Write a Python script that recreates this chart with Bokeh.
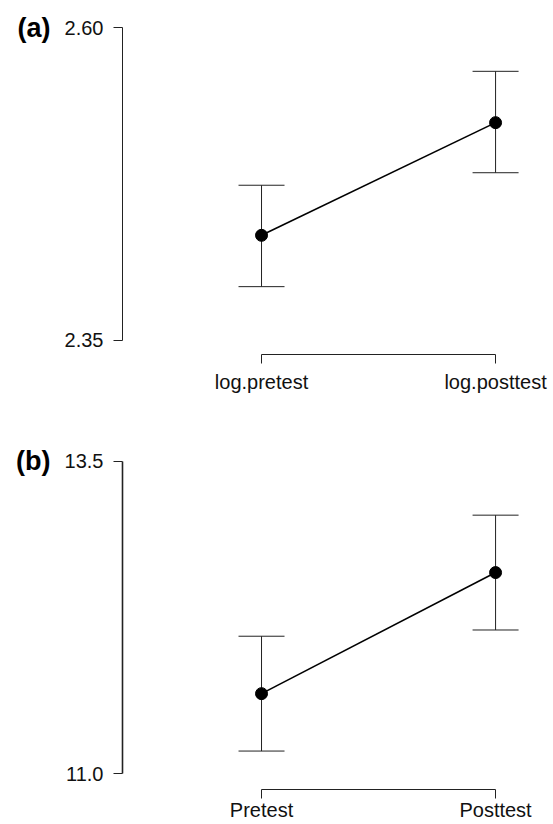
from bokeh.plotting import figure
from bokeh.models import Range1d, FixedTicker, Whisker, TeeHead, ColumnDataSource, LinearAxis
from bokeh.layouts import column
from bokeh.embed import file_html
from bokeh.resources import INLINE

# ---- data ----
conditions_a = ["log.pretest", "log.posttest"]
means_a = [2.434, 2.524]
lower_a = [2.393, 2.484]
upper_a = [2.474, 2.565]
yticks_a = [2.35, 2.60]
yticklabels_a = ["2.35", "2.60"]

conditions_b = ["Pretest", "Posttest"]
means_b = [11.64, 12.61]
lower_b = [11.18, 12.15]
upper_b = [12.10, 13.07]
yticks_b = [11.0, 13.5]
yticklabels_b = ["11.0", "13.5"]

FONT = "Liberation Sans"
AX = "#222222"


def panel(tag, conds, means, lower, upper, yticks, ylabels, yrange, height, bottom,
          xstand, yline):
    xs = list(range(len(conds)))
    p = figure(width=553, height=height, output_backend="svg", toolbar_location=None,
               x_range=Range1d(-0.594, 1.192), y_range=Range1d(*yrange),
               min_border_left=122, min_border_right=13, min_border_top=20,
               min_border_bottom=bottom)
    p.outline_line_color = None
    p.grid.visible = False
    p.background_fill_color = "white"
    p.border_fill_color = "white"

    for ax in (p.xaxis[0], p.yaxis[0]):
        ax.axis_line_color = AX
        ax.axis_line_width = 1
        ax.major_tick_line_color = AX
        ax.major_tick_in = 0
        ax.major_tick_out = 9
        ax.minor_tick_line_color = None
        ax.major_label_text_font = FONT
        ax.major_label_text_font_size = "20px"
        ax.major_label_text_color = "#111111"

    p.xaxis.ticker = FixedTicker(ticks=xs)
    p.xaxis.major_label_overrides = {x: c for x, c in zip(xs, conds)}
    p.xaxis.bounds = (xs[0], xs[-1])
    p.xaxis.major_label_standoff = xstand

    p.yaxis.ticker = FixedTicker(ticks=yticks)
    p.yaxis.major_label_overrides = {t: l for t, l in zip(yticks, ylabels)}
    p.yaxis.bounds = (yticks[0], yticks[-1])
    p.yaxis.major_label_standoff = 10
    p.yaxis.axis_line_width = yline

    # panel tag drawn as an outer left axis carrying one bold label
    tag_axis = LinearAxis(ticker=FixedTicker(ticks=[yticks[-1]]),
                          major_label_overrides={yticks[-1]: tag},
                          axis_line_color=None, major_tick_line_color=None,
                          minor_tick_line_color=None, major_tick_out=0, major_tick_in=0,
                          major_label_standoff=11,
                          major_label_text_font=FONT, major_label_text_font_style="bold",
                          major_label_text_font_size="27px",
                          major_label_text_color="black")
    p.add_layout(tag_axis, "left")

    src = ColumnDataSource(dict(x=xs, m=means, lo=lower, hi=upper))
    w = Whisker(source=src, base="x", lower="lo", upper="hi", line_color="#222222",
                line_width=1,
                lower_head=TeeHead(size=46, line_color="#222222", line_width=1),
                upper_head=TeeHead(size=46, line_color="#222222", line_width=1))
    p.add_layout(w)
    p.line("x", "m", source=src, line_color="black", line_width=1.6)
    p.scatter("x", "m", source=src, size=12, color="black")
    return p


pa = panel("(a)", conditions_a, means_a, lower_a, upper_a, yticks_a, yticklabels_a,
           (2.3388, 2.6056), 434, 80, 7, 1)
pb = panel("(b)", conditions_b, means_b, lower_b, upper_b, yticks_b, yticklabels_b,
           (10.872, 13.556), 390, 35, 0, 1.6)

layout = column(pa, pb, spacing=0)
open("out.html", "w").write(file_html(layout, INLINE))
